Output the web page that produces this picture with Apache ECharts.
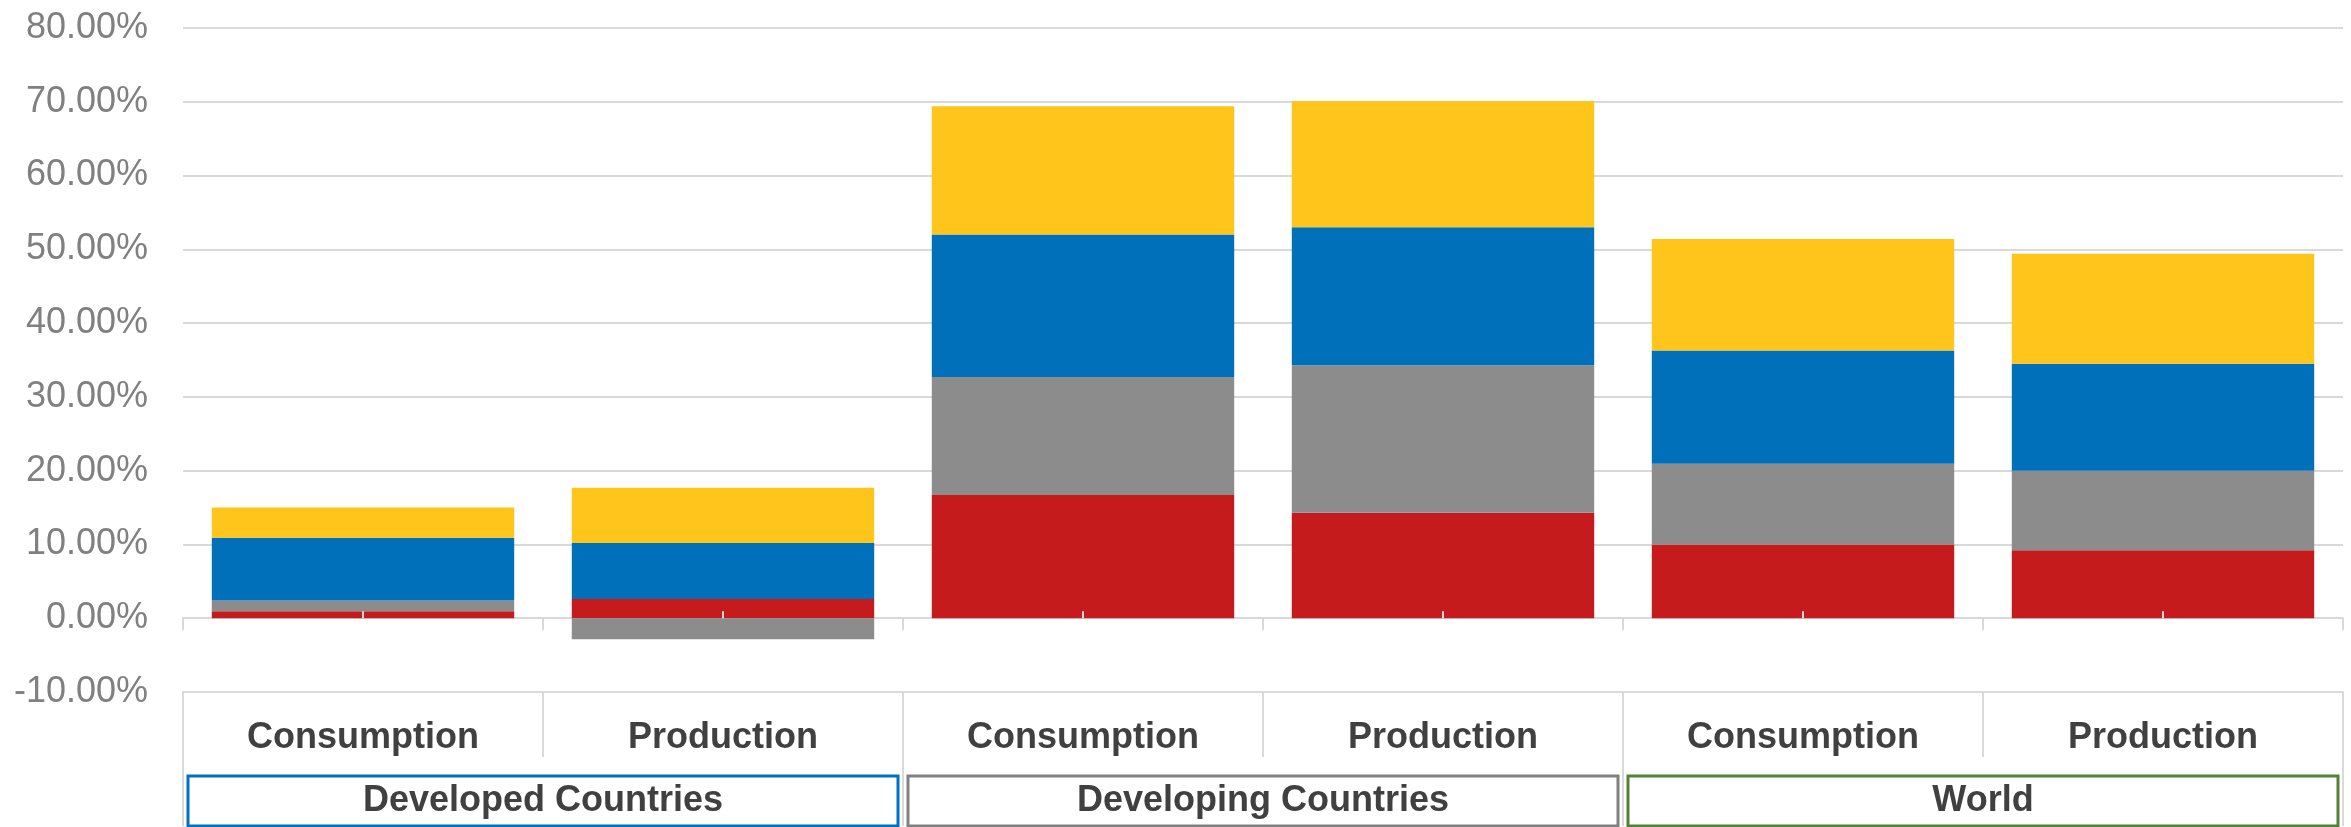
<!DOCTYPE html>
<html>
<head>
<meta charset="utf-8">
<script src="https://cdn.jsdelivr.net/npm/echarts@6/dist/echarts.min.js"></script>
<style>
  html, body { margin: 0; padding: 0; background: #fff; }
  #chart { width: 2351px; height: 827px; }
</style>
</head>
<body>
<div id="chart"></div>
<script>
// ---- Data ----
const categories = ['Consumption', 'Production', 'Consumption', 'Production', 'Consumption', 'Production'];
const groups = ['Developed Countries', 'Developing Countries', 'World'];
// stacked components, in percent (bottom to top)
const seriesRed    = [0.95, 2.6, 16.7, 14.3, 10.0, 9.2];
const seriesGray   = [1.45, -2.85, 16.0, 20.0, 10.95, 10.8];
const seriesBlue   = [8.5, 7.6, 19.3, 18.7, 15.35, 14.5];
const seriesYellow = [4.1, 7.5, 17.4, 17.1, 15.1, 14.9];
const yMin = -10, yMax = 80, yStep = 10;

// ---- Styles ----
const FONT = '"Liberation Sans", Arial, Helvetica, sans-serif';
const groupBorderColors = ['#0070C0', '#808080', '#548235'];
const gridLineColor = '#D9D9D9';
const gridTop = 28, gridBottom = 135, chartH = 827;
const plotH = chartH - gridTop - gridBottom;
const zeroOffset = -plotH * (0 - yMin) / (yMax - yMin);

const rich = {};
groupBorderColors.forEach((c, i) => {
  rich['g' + i] = {
    borderColor: c,
    borderWidth: 3,
    width: 710,
    height: 50,
    lineHeight: 50,
    align: 'center',
    verticalAlign: 'middle',
    fontSize: 36,
    fontWeight: 'bold',
    color: '#404040',
    fontFamily: FONT
  };
});

function makeBar(name, data, color) {
  return {
    name: name,
    type: 'bar',
    stack: 'total',
    xAxisIndex: 0,
    yAxisIndex: 0,
    barWidth: '84%',
    data: data,
    itemStyle: { color: color },
    emphasis: { disabled: true }
  };
}

const chart = echarts.init(document.getElementById('chart'), null, { renderer: 'canvas' });
chart.setOption({
  animation: false,
  backgroundColor: '#ffffff',
  grid: { left: 183, right: 8, top: gridTop, bottom: gridBottom, containLabel: false, outerBoundsMode: 'none' },
  yAxis: {
    type: 'value',
    min: yMin, max: yMax, interval: yStep,
    axisLine: { show: false },
    axisTick: { show: false },
    splitLine: { show: true, lineStyle: { color: gridLineColor, width: 2 } },
    axisLabel: {
      fontSize: 36, color: '#808080', fontFamily: FONT, margin: 35,
      formatter: v => v.toFixed(2) + '%'
    }
  },
  xAxis: [
    {
      // main axis at zero
      type: 'category', data: categories, position: 'bottom',
      axisLine: { onZero: true, lineStyle: { color: gridLineColor, width: 2 } },
      axisTick: { show: true, length: 12, lineStyle: { color: gridLineColor, width: 2 } },
      axisLabel: { show: false }
    },
    {
      // sub-category row of the table
      type: 'category', data: categories, position: 'bottom', offset: 0,
      axisLine: { show: true, onZero: false, lineStyle: { color: gridLineColor, width: 2 } },
      axisTick: { show: true, length: 65, interval: 0, lineStyle: { color: gridLineColor, width: 2 } },
      axisLabel: {
        interval: 0, margin: 28, fontSize: 36, fontWeight: 'bold', color: '#404040', fontFamily: FONT
      }
    },
    {
      // group row of the table
      type: 'category', data: groups, position: 'bottom', offset: 65,
      axisLine: { show: false, onZero: false },
      axisTick: { show: true, length: 69, interval: 0, lineStyle: { color: gridLineColor, width: 2 } },
      axisLabel: {
        interval: 0, margin: 19,
        formatter: (value, index) => '{g' + index + '|' + value + '}',
        rich: rich
      }
    },
    {
      // small center marks at the zero line
      type: 'category', data: categories, position: 'bottom', offset: zeroOffset, z: 5,
      axisLine: { show: false, onZero: false },
      axisTick: { show: true, inside: true, alignWithLabel: true, length: 7, lineStyle: { color: gridLineColor, width: 2 } },
      axisLabel: { show: false }
    }
  ],
  series: [
    makeBar('Series 1', seriesRed, '#C51B1C'),
    makeBar('Series 2', seriesGray, '#8C8C8C'),
    makeBar('Series 3', seriesBlue, '#0070BA'),
    makeBar('Series 4', seriesYellow, '#FFC51A')
  ]
});
</script>
</body>
</html>
